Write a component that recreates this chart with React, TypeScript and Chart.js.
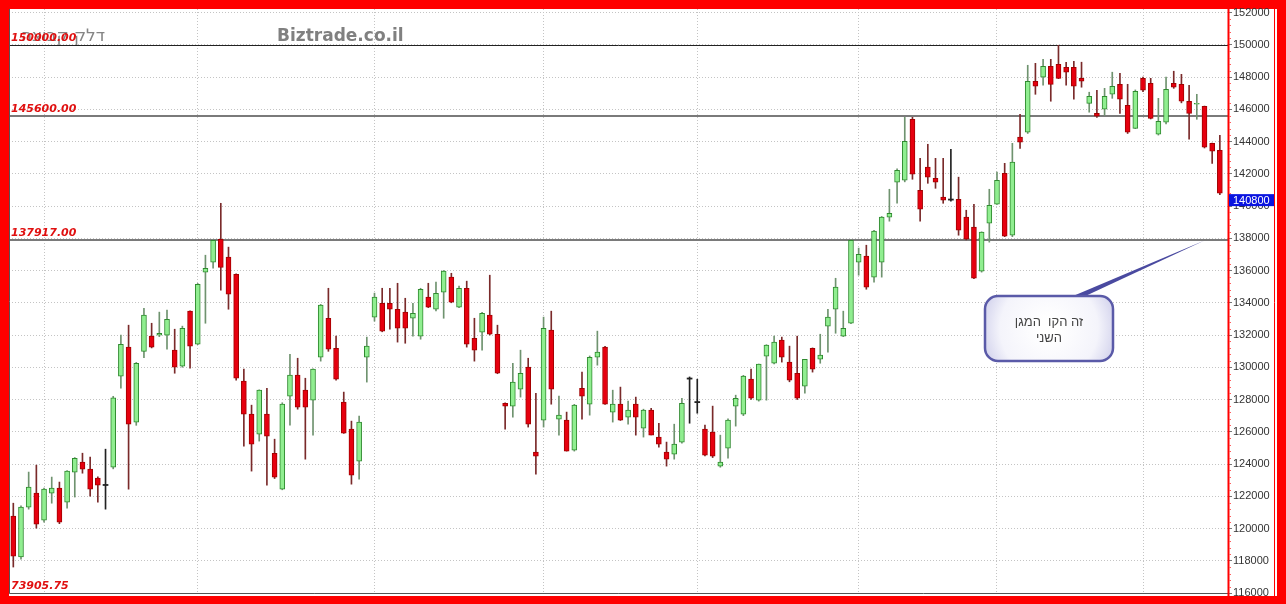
import React, { useEffect, useRef } from "react";
import { Chart, registerables } from "chart.js";

Chart.register(...registerables);

// ---- data ----
const opens = [
  120770, 118230, 121330, 122200, 120520, 122190, 122500, 121640, 123500, 124120,
  123680, 123120, 122700, 123810, 129450, 131250, 126600, 130980, 131930, 131990,
  131990, 131060, 130070, 133480, 131430, 135900, 136520, 137940, 136830, 135770,
  129140, 127090, 125850, 127090, 124670, 122440, 128210, 129510, 128580, 127960,
  130620, 133040, 131180, 127840, 126160, 124180, 130620, 133110, 133970, 133970,
  133600, 133420, 133040, 131930, 134350, 133600, 134660, 135590, 133730, 134900,
  131800, 132170, 133230, 132050, 127770, 127590, 128640, 130010, 124740, 126720,
  132300, 126780, 126720, 124860, 128700, 127710, 130620, 131250, 127220, 127710,
  126910, 127710, 126220, 127340, 125670, 124740, 124610, 125360, 129300, 127840,
  126160, 125980, 123870, 124980, 127590, 127090, 129260, 127960, 130690, 130250,
  131680, 130320, 129630, 128830, 131180, 130500, 132550, 133600, 131930, 132730,
  136520, 136890, 135590, 136520, 139310, 141480, 141600, 145380, 140980, 142410,
  141720, 140550, 140400, 140420, 139310, 138690, 135960, 138930, 140110, 142030,
  138190, 144270, 144580, 147740, 147990, 148670, 148790, 148610, 148610, 147920,
  146370, 145750, 146000, 146930, 147550, 146250, 144820, 147920, 147610, 144450,
  145200, 147610, 147550, 146500, 146310, 146190, 143890, 143460,
];
const highs = [
  121570, 121400, 123500, 123930, 122500, 123190, 122880, 123600, 124400, 124670,
  124430, 123200, 124920, 128200, 131990, 132610, 130300, 133660, 132730, 133420,
  133540, 132360, 132550, 133500, 135200, 136950, 137900, 140170, 137450, 135800,
  129880, 127650, 128600, 128700, 125540, 127800, 130810, 130560, 129320, 129900,
  133900, 134900, 131930, 128460, 126660, 126970, 131870, 134600, 134900, 134900,
  135210, 134280, 133970, 134900, 135210, 135280, 136000, 135830, 135030, 135340,
  133040, 133400, 135710, 132610, 127800, 130250, 131060, 130560, 128390, 133110,
  133480, 128210, 127220, 127700, 129700, 130700, 132240, 131300, 128580, 128770,
  127900, 128150, 127400, 127460, 126530, 125360, 126470, 128080, 129400, 129260,
  126410, 127590, 125790, 126800, 128270, 129500, 129880, 130200, 131400, 131930,
  131870, 131310, 131930, 130500, 131200, 132050, 133600, 135520, 133480, 137900,
  137390, 137570, 138500, 139350, 141040, 142300, 145500, 145500, 142960, 143830,
  142960, 142960, 143520, 141790, 139740, 140110, 138400, 141040, 142100, 142650,
  143890, 145690, 148730, 148850, 149100, 149100, 149970, 148920, 148980, 148920,
  147060, 147180, 147300, 148300, 148230, 147550, 147200, 148000, 147920, 146680,
  147990, 148360, 148170, 147490, 146930, 146200, 143900, 144390,
];
const lows = [
  117610, 118100, 121200, 120020, 120400, 121570, 120300, 121260, 121950, 123430,
  122010, 121640, 121200, 123700, 128700, 122440, 126400, 130600, 131200, 131900,
  131120, 129630, 130000, 129940, 131400, 132730, 136140, 134780, 133600, 129200,
  125110, 123560, 125420, 122690, 123100, 122400, 126410, 127400, 124300, 125790,
  130380, 130990, 129200, 125900, 122750, 123060, 129080, 132860, 132200, 132360,
  131560, 131490, 131930, 131740, 133700, 133500, 133040, 134000, 133700, 131250,
  130380, 131060, 132000, 129600, 126160, 126910, 128150, 126290, 123370, 126290,
  127710, 125790, 124800, 124800, 126780, 127030, 130130, 127700, 126600, 126700,
  126470, 125790, 125670, 125800, 125050, 123870, 124300, 125300, 126530, 127150,
  124500, 124400, 123800, 124360, 126350, 127000, 128000, 127900, 127960, 130200,
  130320, 129100, 128000, 128400, 129700, 130250, 130940, 132110, 131900, 132700,
  135710, 134840, 135280, 135590, 139060, 140170, 141500, 141660, 139060, 141410,
  141100, 140170, 140300, 138190, 137900, 135500, 135900, 137760, 140100, 138100,
  138100, 143580, 144500, 146930, 147490, 146500, 147900, 147490, 146620, 147370,
  145820, 145500, 145630, 146680, 145750, 144500, 144800, 147100, 145400, 144400,
  145100, 147300, 146400, 144140, 145380, 143600, 142650, 140700,
];
const closes = [
  118290, 121330, 122570, 120270, 122440, 122500, 120400, 123560, 124360, 123680,
  122440, 122690, 122700, 128100, 131430, 126470, 130250, 133230, 131250, 132110,
  132980, 130010, 132420, 131310, 135150, 136140, 137880, 136200, 134530, 129320,
  127090, 125230, 128580, 125730, 123190, 127710, 129510, 127530, 127530, 129880,
  133850, 131120, 129260, 125910, 123310, 126600, 131310, 134350, 132240, 133600,
  132420, 132420, 133350, 134840, 133730, 134590, 135960, 134040, 134900, 131430,
  131060, 133350, 132050, 129630, 127590, 129080, 129630, 126470, 124490, 132420,
  128640, 127030, 124800, 127650, 128210, 130620, 130940, 127710, 127710, 126720,
  127340, 126910, 127340, 125790, 125230, 124300, 125230, 127770, 129300, 127840,
  124550, 124490, 124120, 126720, 128080, 129450, 128080, 130190, 131370, 131560,
  130620, 129200, 128080, 130500, 129880, 130750, 133110, 134970, 132420, 137880,
  137010, 134970, 138440, 139310, 139550, 142220, 144020, 141970, 139800, 141790,
  141480, 140360, 140400, 138500, 137940, 135520, 138380, 140050, 141600, 138130,
  142720, 143960, 147740, 147430, 148670, 147550, 147920, 148300, 147430, 147740,
  146810, 145570, 146810, 147430, 146620, 144580, 147120, 147180, 145440, 145260,
  147240, 147370, 146500, 145750, 146370, 143650, 143400, 140800,
];

const yTicks = [
  116000, 118000, 120000, 122000, 124000, 126000, 128000, 130000, 132000, 134000,
  136000, 138000, 140000, 142000, 144000, 146000, 148000, 150000, 152000,
];
const periodStarts = [4, 24, 47, 69, 89, 110, 128, 147];
const levelValues = [150000, 145600, 137917];
const levelLabels = ["150000.00", "145600.00", "137917.00"];
const levelColors = ["#222222", "#7a7a7a", "#7a7a7a"];
const levelWidths = [1, 2, 2];
const bottomLabel = "73905.75";
const lastPrice = 140800;
const symbolName = "דלק קבוצה";
const siteName = "Biztrade.co.il";
const calloutLines = ["זה הקו  המגן", "השני"];
const calloutTarget = { index: 155, value: 137917 };

const W = 1286;
const H = 604;

const isDoji = (i: number) => opens[i] === closes[i];
const isUp = (i: number) => closes[i] > opens[i];

const framePlugin = {
  id: "frame",
  beforeDraw(chart: any) {
    const ctx = chart.ctx;
    ctx.save();
    ctx.fillStyle = "#ff0000";
    ctx.fillRect(0, 0, W, H);
    ctx.fillStyle = "#ffffff";
    ctx.fillRect(9, 9, 1268, 587);
    ctx.restore();
  },
  beforeDatasetsDraw(chart: any) {
    const { ctx, chartArea, scales } = chart;
    const y = scales.y;
    ctx.save();
    levelValues.forEach((v, k) => {
      const py = Math.round(y.getPixelForValue(v)) + (levelWidths[k] === 1 ? 0.5 : 0);
      ctx.strokeStyle = levelColors[k];
      ctx.lineWidth = levelWidths[k];
      ctx.beginPath();
      ctx.moveTo(chartArea.left, py);
      ctx.lineTo(chartArea.right, py);
      ctx.stroke();
    });
    ctx.restore();
  },
  afterDraw(chart: any) {
    const { ctx, chartArea, scales } = chart;
    const y = scales.y;
    const x = scales.x;
    ctx.save();
    // plot borders
    ctx.strokeStyle = "#555555";
    ctx.lineWidth = 1;
    ctx.beginPath();
    ctx.moveTo(chartArea.left + 0.5, chartArea.top);
    ctx.lineTo(chartArea.left + 0.5, chartArea.bottom + 0.5);
    ctx.lineTo(chartArea.right, chartArea.bottom + 0.5);
    ctx.stroke();
    // red axis line
    ctx.strokeStyle = "#ff0000";
    ctx.lineWidth = 2;
    ctx.beginPath();
    ctx.moveTo(chartArea.right + 0.5, 9);
    ctx.lineTo(chartArea.right + 0.5, 596);
    ctx.stroke();
    ctx.lineWidth = 1;
    ctx.beginPath();
    ctx.moveTo(1274.5, 9);
    ctx.lineTo(1274.5, 596);
    ctx.stroke();
    // minor ticks
    ctx.strokeStyle = "#ff6060";
    for (let v = yTicks[0]; v <= yTicks[yTicks.length - 1]; v += 400) {
      if (v % 2000 === 0) continue;
      const py = Math.round(y.getPixelForValue(v)) + 0.5;
      ctx.beginPath();
      ctx.moveTo(chartArea.right + 1, py);
      ctx.lineTo(chartArea.right + 3, py);
      ctx.stroke();
    }
    // symbol name (under the level label)
    ctx.fillStyle = "#858585";
    ctx.font = "17px 'DejaVu Sans'";
    ctx.textAlign = "right";
    ctx.textBaseline = "alphabetic";
    ctx.fillText(symbolName, 105, 41);
    // level labels
    ctx.fillStyle = "#e01010";
    ctx.font = "italic bold 11px 'DejaVu Sans'";
    ctx.textAlign = "left";
    levelValues.forEach((v, k) => {
      const py = y.getPixelForValue(v);
      ctx.fillText(levelLabels[k], 11, py - 4);
    });
    ctx.fillText(bottomLabel, 11, chartArea.bottom - 4);
    // site name
    ctx.fillStyle = "#808080";
    ctx.font = "bold 17px 'DejaVu Sans'";
    ctx.textAlign = "left";
    ctx.fillText(siteName, 277, 41);
    // last price box
    const lp = y.getPixelForValue(lastPrice);
    ctx.fillStyle = "#0a14e0";
    ctx.fillRect(chartArea.right + 1, lp + 1, 45, 12);
    ctx.fillStyle = "#ffffff";
    ctx.font = "11px 'Liberation Sans'";
    ctx.textAlign = "left";
    ctx.textBaseline = "middle";
    ctx.fillText(String(lastPrice), chartArea.right + 5, lp + 7.5);
    // callout
    const tx = x.getPixelForValue(calloutTarget.index);
    const ty = y.getPixelForValue(calloutTarget.value);
    const bx = 985, by = 296, bw = 128, bh = 65, r = 13;
    ctx.fillStyle = "#4a4aa0";
    ctx.beginPath();
    ctx.moveTo(1066, by + 3);
    ctx.lineTo(tx, ty + 1);
    ctx.lineTo(1079, by + 3);
    ctx.closePath();
    ctx.fill();
    const g = ctx.createRadialGradient(bx + bw / 2, by + bh / 2, 10, bx + bw / 2, by + bh / 2, 75);
    g.addColorStop(0, "#ffffff");
    g.addColorStop(0.6, "#f4f4fb");
    g.addColorStop(1, "#c8c8e8");
    ctx.fillStyle = g;
    ctx.beginPath();
    ctx.roundRect(bx, by, bw, bh, r);
    ctx.fill();
    ctx.strokeStyle = "#5a5aa8";
    ctx.lineWidth = 2.5;
    ctx.stroke();
    ctx.fillStyle = "#444444";
    ctx.font = "13px 'Liberation Sans'";
    ctx.textAlign = "center";
    ctx.textBaseline = "middle";
    ctx.direction = "rtl";
    ctx.fillText(calloutLines[0], bx + bw / 2, by + 26);
    ctx.fillText(calloutLines[1], bx + bw / 2, by + 42);
    ctx.restore();
  },
};

export default function App() {
  const ref = useRef<HTMLCanvasElement | null>(null);
  useEffect(() => {
    const canvas = ref.current;
    if (!canvas) return;
    const n = opens.length;
    const idx = opens.map((_, i) => i);
    const chart = new Chart(canvas, {
      type: "bar",
      data: {
        datasets: [
          {
            label: "body",
            order: 0,
            data: idx.map((i) => ({
              x: i,
              y: isDoji(i) ? [opens[i] - 35, opens[i] + 35] : [opens[i], closes[i]],
            })) as any,
            backgroundColor: idx.map((i) => (isDoji(i) ? "#222222" : isUp(i) ? "#90ee90" : "#e6000f")),
            borderColor: idx.map((i) => (isDoji(i) ? "#222222" : isUp(i) ? "#2f8a2f" : "#a30000")),
            borderWidth: idx.map((i) => (isDoji(i) ? 0 : 1)),
            borderSkipped: false,
            barThickness: 5,
            grouped: false,
          } as any,
          {
            label: "wick",
            order: 1,
            data: idx.map((i) => ({ x: i, y: [lows[i], highs[i]] })) as any,
            backgroundColor: idx.map((i) => (isDoji(i) ? "#222222" : isUp(i) ? "#6f936f" : "#7a2a2a")),
            borderWidth: 0,
            barThickness: 1,
            grouped: false,
          } as any,
        ],
      },
      options: {
        responsive: false,
        animation: false,
        devicePixelRatio: 1,
        layout: { padding: { left: 9, top: 9, right: 0, bottom: 11 } },
        plugins: { legend: { display: false }, tooltip: { enabled: false } },
        scales: {
          x: {
            type: "linear",
            offset: false,
            min: -0.56,
            max: n + 0.06,
            afterBuildTicks: (s: any) => {
              s.ticks = periodStarts.map((v) => ({ value: v }));
            },
            afterFit: (s: any) => {
              s.height = 0;
            },
            ticks: { display: false },
            grid: { color: "#c4c4c4", drawTicks: false, offset: false },
            border: { display: false, dash: [1, 2] },
          },
          y: {
            type: "linear",
            position: "right",
            min: 116000,
            max: 152220,
            afterBuildTicks: (s: any) => {
              s.ticks = yTicks.map((v) => ({ value: v }));
            },
            afterFit: (s: any) => {
              s.width = 58;
            },
            ticks: {
              color: "#333333",
              font: { family: "'Liberation Sans'", size: 11 },
              padding: 1,
              callback: (v: any) => String(v),
            },
            grid: { color: "#c4c4c4", tickColor: "#777777", tickLength: 4, tickBorderDash: [] },
            border: { display: false, dash: [1, 2] },
          },
        },
      },
      plugins: [framePlugin],
    });
    return () => chart.destroy();
  }, []);
  return (
    <div style={{ position: "absolute", left: 0, top: 0, width: W, height: H }}>
      <canvas ref={ref} width={W} height={H} style={{ display: "block", width: W, height: H }} />
    </div>
  );
}
